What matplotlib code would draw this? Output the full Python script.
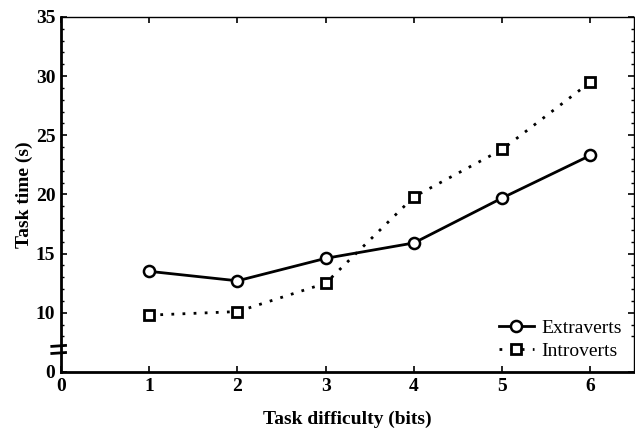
import numpy as np
import matplotlib.pyplot as plt
import matplotlib.transforms as mtransforms

## data
difficulty = [1, 2, 3, 4, 5, 6]
extraverts = [13.5, 12.7, 14.6, 15.9, 19.7, 23.3]
introverts = [9.8, 10.1, 12.5, 19.8, 23.8, 29.5]

# broken axis: the bottom of the plot (5) is labelled as 0
y_ticks = [5, 10, 15, 20, 25, 30, 35]
y_ticklabels = ['0', '10', '15', '20', '25', '30', '35']
x_ticks = [0, 1, 2, 3, 4, 5, 6]

plt.rcParams['font.family'] = ['Liberation Serif', 'DejaVu Serif']
plt.rcParams['font.weight'] = 'bold'

fig = plt.figure(figsize=(6.35, 4.32), dpi=100)
ax = fig.add_axes([0.096, 0.139, 0.902, 0.822])

ax.plot(difficulty, extraverts, '-', color='black', lw=2,
        marker='o', ms=8, mfc='white', mec='black', mew=1.8, label='Extraverts')
ax.plot(difficulty, introverts, color='black', lw=2, linestyle=(0, (1, 3)),
        marker='s', ms=7.5, mfc='white', mec='black', mew=2, label='Introverts')

ax.set_xlim(0, 6.49)
ax.set_ylim(5, 35)
ax.set_xticks(x_ticks)
ax.set_yticks(y_ticks)
ax.set_yticklabels(y_ticklabels)
ax.set_yticks(np.arange(8, 35, 1), minor=True)

ax.tick_params(axis='both', which='major', direction='in', length=4, width=1.2,
               labelsize=14, top=True, right=True, pad=4)
ax.tick_params(axis='y', which='minor', direction='in', length=2, width=1, right=True)
for lab in ax.get_xticklabels() + ax.get_yticklabels():
    lab.set_fontweight('bold')

ax.spines['left'].set_linewidth(2)
ax.spines['bottom'].set_linewidth(2)
ax.spines['top'].set_linewidth(1)
ax.spines['right'].set_linewidth(1)

# break marks on the y axis
trans = mtransforms.blended_transform_factory(ax.transAxes, ax.transData)
for yb in (7.2, 6.6):
    ax.plot([-0.016, 0.008], [yb - 0.04, yb + 0.04], color='black', lw=2,
            transform=trans, clip_on=False)

ax.set_xlabel('Task difficulty (bits)', fontsize=14, fontweight='bold', labelpad=12)
ax.set_ylabel('Task time (s)', fontsize=14, fontweight='bold', labelpad=2)

leg = ax.legend(loc='lower right', frameon=False, fontsize=14, handlelength=1.8,
                handletextpad=0.4, borderaxespad=0.2, labelspacing=0.3)
for t in leg.get_texts():
    t.set_fontweight('normal')

plt.savefig('out.png', dpi=100)
